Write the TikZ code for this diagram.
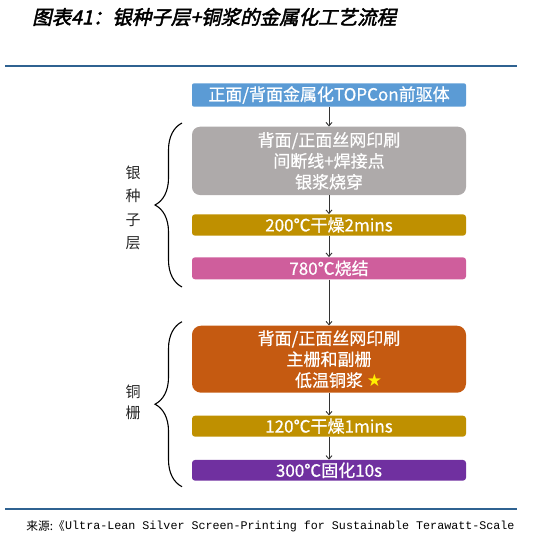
\documentclass[tikz,border=0pt]{standalone}
\usepackage{fontspec}
\setmainfont{Noto Sans CJK SC}
\newfontfamily\cjk{Noto Sans CJK SC}
\newfontfamily\boxfont{Noto Sans CJK SC}[FakeBold=0.6]
\newfontfamily\titlefont{Noto Sans CJK SC}[FakeSlant=0.22,FakeBold=2.2]
\newfontfamily\monofont{Liberation Mono}
\newfontfamily\starfont{DejaVu Sans}
\usetikzlibrary{decorations.pathreplacing,arrows.meta}
\definecolor{rulecol}{RGB}{47,98,145}
\definecolor{cblue}{RGB}{91,155,213}
\definecolor{cgrey}{RGB}{174,170,170}
\definecolor{cgold}{RGB}{191,144,0}
\definecolor{cpink}{RGB}{207,94,156}
\definecolor{corange}{RGB}{197,90,17}
\definecolor{cpurple}{RGB}{112,48,160}
\definecolor{cstar}{RGB}{255,240,0}
\begin{document}
\begin{tikzpicture}[x=1pt,y=-1pt,
  stepbox/.style={text=white, font=\boxfont\fontsize{17}{21}\selectfont, align=center,
    inner sep=0pt, minimum width=274pt, rounded corners=3pt},
  flow/.style={draw=black!80, line width=0.9pt, -{Straight Barb[length=3.5pt,width=6pt]}},
  bracestyle/.style={draw=black, line width=1.1pt, decorate, decoration={brace, amplitude=27pt}},
  sidelabel/.style={text=black!85, align=center, inner sep=0pt}]
\useasboundingbox (0,0) rectangle (559,540);
% title and rules
\node[anchor=west, inner sep=0pt, font=\titlefont\fontsize{19.5}{22}\selectfont] (title) at (32,17) {图表41：银种子层+铜浆的金属化工艺流程};
\draw[rulecol, line width=2pt] (5,66) -- (517,66);
\draw[rulecol, line width=2pt] (5,509) -- (517,509);
% boxes
\node[stepbox, fill=cblue, minimum height=23.4pt, rounded corners=2pt] (b1) at (329,95) {正面/背面金属化TOPCon前驱体};
\node[stepbox, fill=cgrey, minimum height=68.3pt, rounded corners=8pt] (b2) at (329,160.9) {背面/正面丝网印刷\\间断线+焊接点\\银浆烧穿};
\node[stepbox, fill=cgold, minimum height=21.4pt] (b3) at (329,225) {200℃干燥2mins};
\node[stepbox, fill=cpink, minimum height=22pt] (b4) at (329,268.3) {780℃烧结};
\node[stepbox, fill=corange, minimum height=67pt, rounded corners=9pt] (b5) at (329,359.2) {背面/正面丝网印刷\\主栅和副栅\\低温铜浆\rlap{\ {\starfont\color{cstar}★}}};
\node[stepbox, fill=cgold, minimum height=21pt] (b6) at (329,426.2) {120℃干燥1mins};
\node[stepbox, fill=cpurple, minimum height=20.7pt] (b7) at (329,470.3) {300℃固化10s};
% arrows
\draw[flow] (b1.south) -- (b2.north);
\draw[flow] (b2.south) -- (b3.north);
\draw[flow] (b3.south) -- (b4.north);
\draw[flow] (b4.south) -- (b5.north);
\draw[flow] (b5.south) -- (b6.north);
\draw[flow] (b6.south) -- (b7.north);
% braces
\coordinate (br1top) at (182,123);
\coordinate (br1bot) at (182,287);
\coordinate (br2top) at (182,321.7);
\coordinate (br2bot) at (182,486.7);
\draw[bracestyle] (br1bot) -- (br1top);
\draw[bracestyle] (br2bot) -- (br2top);
% side labels
\node[sidelabel, font=\cjk\fontsize{15}{23.5}\selectfont] (lab1) at (133,208) {银\\种\\子\\层};
\node[sidelabel, font=\cjk\fontsize{15}{21.6}\selectfont] (lab2) at (133,402.5) {铜\\栅};
% source
\node[anchor=west, inner sep=0pt, font=\monofont\fontsize{11.7}{13}\selectfont] (src) at (65,526) {Ultra-Lean Silver Screen-Printing for Sustainable Terawatt-Scale};
\node[anchor=east, inner sep=0pt, font=\cjk\fontsize{11.7}{13}\selectfont] (srcl) at (src.west) {来源:《};
\end{tikzpicture}
\end{document}
